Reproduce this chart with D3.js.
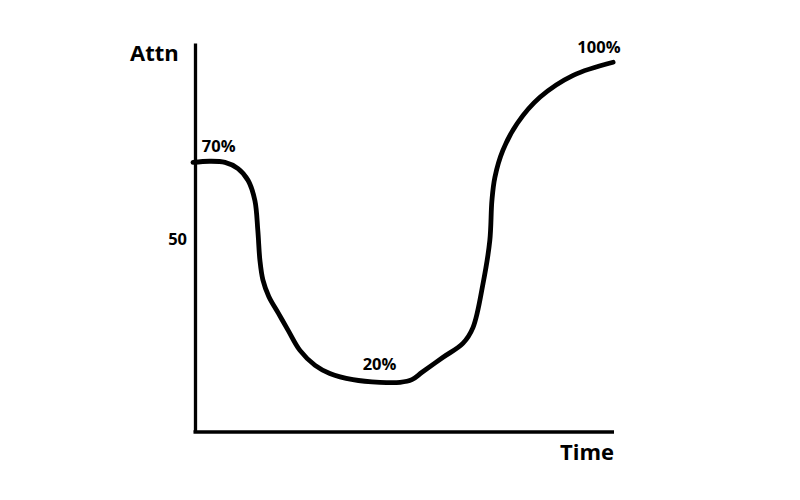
<!DOCTYPE html>
<html><head><meta charset="utf-8">
<script src="https://cdn.jsdelivr.net/npm/d3@7"></script>
<style>body{margin:0;background:#fff}</style>
</head><body>
<svg id="c" width="800" height="500"></svg>
<script>
// time (0-100) and attention (%)
const timeVals = [0,4.0,7.6,10.7,13.1,14.7,15.4,15.9,16.6,18.0,20.3,22.6,25.4,29.0,32.5,38.0,44.4,49.2,52.0,54.4,59.4,64.1,66.5,68.9,70.5,71.0,71.7,73.6,77.0,82.4,90.3,99.8];
const attnVals = [70,70.3,70,68.4,65.3,60.1,52.3,44.5,39.5,35.2,30.8,26.4,21.2,17.3,15.2,13.6,12.9,12.9,13.6,15.5,19.4,23.0,27.1,38.6,49.7,60.1,66.1,73.1,80.1,86.9,92.6,96.0];
const yTicks = [50];
const labelText = ["70%","20%","100%"];
const labelT = [2.1,40.3,91.3];
const labelV = [72.7,16.0,98.3];

const svg = d3.select("#c");
const x = d3.scaleLinear().domain([0,100]).range([193,614]);
const y = d3.scaleLinear().domain([0,101]).range([432,43]);

// axes
const yAxis = d3.axisLeft(y).tickValues(yTicks).tickSize(0).tickPadding(8).tickSizeOuter(0);
const gy = svg.append("g").attr("transform","translate(195,0)").call(yAxis);
const xAxis = d3.axisBottom(x).tickValues([]).tickSizeOuter(0);
const gx = svg.append("g").attr("transform","translate(0,432)").call(xAxis);
[gy,gx].forEach(g=>{
  g.select(".domain").attr("stroke","#000").attr("stroke-width",3.3);
  g.selectAll("text").attr("font-family","'Open Sans', sans-serif").attr("font-weight","bold").attr("font-size",16.5).attr("fill","#000");
});
gx.select(".domain").attr("d","M193.5,0H614");

// curve
const pts = timeVals.map((t,i)=>[t,attnVals[i]]);
const line = d3.line().x(d=>x(d[0])).y(d=>y(d[1])).curve(d3.curveCatmullRom.alpha(0.5));
svg.append("path").datum(pts).attr("d",line).attr("fill","none").attr("stroke","#000")
  .attr("stroke-width",4.8).attr("stroke-linecap","round").attr("stroke-linejoin","round");

// point labels
svg.selectAll("text.lbl").data(labelText).enter().append("text").attr("class","lbl")
  .attr("x",(d,i)=>x(labelT[i])).attr("y",(d,i)=>y(labelV[i]))
  .attr("font-family","'Open Sans', sans-serif").attr("font-weight","bold").attr("font-size",16.5)
  .text(d=>d);

// axis titles
svg.append("text").attr("x",130).attr("y",61).attr("font-family","'Open Sans', sans-serif")
  .attr("font-weight","bold").attr("font-size",22).text("Attn");
svg.append("text").attr("x",614).attr("y",460).attr("text-anchor","end").attr("font-family","'Open Sans', sans-serif")
  .attr("font-weight","bold").attr("font-size",22).text("Time");
</script>
</body></html>
